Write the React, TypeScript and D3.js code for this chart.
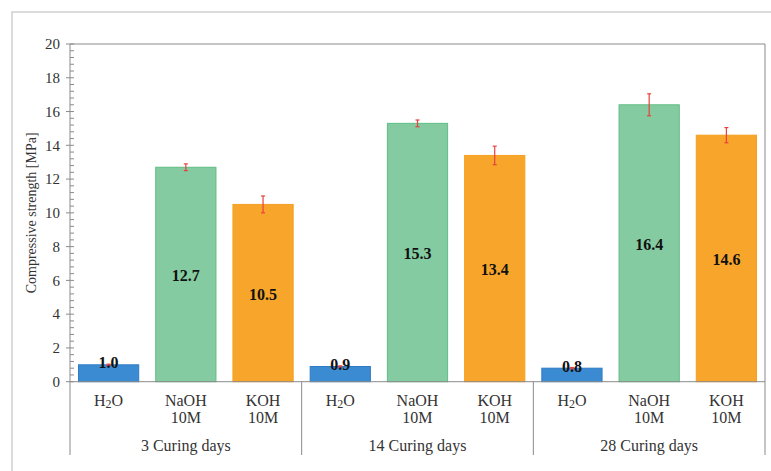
import { scaleBand, scaleLinear, range } from "d3"

const groups = ["3 Curing days", "14 Curing days", "28 Curing days"]
const solutions = ["H2O", "NaOH", "KOH"]
const h2oValues = [1.0, 0.9, 0.8]
const naohValues = [12.7, 15.3, 16.4]
const kohValues = [10.5, 13.4, 14.6]
const h2oErrors = [0.04, 0.04, 0.04]
const naohErrors = [0.2, 0.2, 0.65]
const kohErrors = [0.5, 0.55, 0.45]
const yTicks = [0, 2, 4, 6, 8, 10, 12, 14, 16, 18, 20]

const fills: Record<string, string> = { H2O: "#3b8bd3", NaOH: "#85cba1", KOH: "#f7a62b" }
const strokes: Record<string, string> = { H2O: "#2f7bc4", NaOH: "#5fbd83", KOH: "#f5a020" }

const seriesValues: Record<string, number[]> = { H2O: h2oValues, NaOH: naohValues, KOH: kohValues }
const seriesErrors: Record<string, number[]> = { H2O: h2oErrors, NaOH: naohErrors, KOH: kohErrors }

const serif = { fontFamily: "Liberation Serif" }

export default function App() {
  const width = 771
  const height = 471
  const left = 70
  const right = 765
  const top = 44
  const bottom = 381.7
  const frameBottom = 455

  const x0 = scaleBand<string>().domain(groups).range([left, right]).padding(0)
  const x1 = scaleBand<string>()
    .domain(solutions)
    .range([0, x0.bandwidth()])
    .paddingInner(0.22)
    .paddingOuter(0.11)
  const y = scaleLinear().domain([0, 20]).range([bottom, top])

  const minorTicks = range(0, 20.001, 0.4).filter((v) => Math.abs(v / 2 - Math.round(v / 2)) > 0.01)

  return (
    <svg
      width={width}
      height={height}
      style={{ position: "absolute", left: 0, top: 0, background: "#fff" }}
    >
      {/* outer frame */}
      <rect x={12} y={12} width={width} height={height} fill="none" stroke="#cfcfcf" strokeWidth={1.5} />

      {/* plot frame */}
      <line x1={left} x2={right} y1={top} y2={top} stroke="#8a8a8a" />
      <line x1={right} x2={right} y1={top} y2={frameBottom} stroke="#8a8a8a" />

      {/* bars */}
      {groups.map((g, gi) => (
        <g key={g} transform={`translate(${x0(g)},0)`}>
          {solutions.map((s) => {
            const v = seriesValues[s][gi]
            const e = seriesErrors[s][gi]
            const bx = x1(s)!
            const bw = x1.bandwidth()
            const cx = bx + bw / 2
            const barH = bottom - y(v)
            const labelY = barH > 40 ? y(v / 2) + 1 : y(v) - 2
            return (
              <g key={s}>
                <rect
                  x={bx}
                  y={y(v)}
                  width={bw}
                  height={barH}
                  fill={fills[s]}
                  stroke={strokes[s]}
                  strokeWidth={1}
                />
                <g stroke="#e8413c" strokeWidth={1.2}>
                  <line x1={cx} x2={cx} y1={y(v + e)} y2={y(v - e)} />
                  <line x1={cx - 2} x2={cx + 2} y1={y(v + e)} y2={y(v + e)} />
                  <line x1={cx - 2} x2={cx + 2} y1={y(v - e)} y2={y(v - e)} />
                </g>
                <text
                  x={cx}
                  y={labelY}
                  dy="0.35em"
                  textAnchor="middle"
                  style={serif}
                  fontWeight="bold"
                  fontSize={16}
                  fill="#111"
                >
                  {v.toFixed(1)}
                </text>
                <text
                  x={cx}
                  y={406}
                  textAnchor="middle"
                  style={serif}
                  fontSize={16}
                  fill="#333"
                >
                  {s === "H2O" ? (
                    <>
                      H<tspan fontSize={12} dy={2}>2</tspan>
                      <tspan dy={-2}>O</tspan>
                    </>
                  ) : (
                    s
                  )}
                </text>
                {s !== "H2O" && (
                  <text
                    x={cx}
                    y={423}
                    textAnchor="middle"
                    style={serif}
                    fontSize={16}
                    fill="#333"
                  >
                    10M
                  </text>
                )}
              </g>
            )
          })}
          <text
            x={x0.bandwidth() / 2}
            y={451}
            textAnchor="middle"
            style={serif}
            fontSize={16}
            fill="#333"
          >
            {g}
          </text>
        </g>
      ))}

      {/* x axis and group dividers */}
      <line x1={left} x2={right} y1={bottom} y2={bottom} stroke="#8a8a8a" />
      {groups.slice(1).map((g) => (
        <line key={g} x1={x0(g)} x2={x0(g)} y1={bottom} y2={frameBottom} stroke="#8a8a8a" />
      ))}

      {/* y axis */}
      <line x1={left} x2={left} y1={top} y2={frameBottom} stroke="#8a8a8a" />
      {minorTicks.map((t) => (
        <line key={t} x1={left} x2={left + 4} y1={y(t)} y2={y(t)} stroke="#8a8a8a" />
      ))}
      {yTicks.map((t) => (
        <g key={t}>
          <line x1={left - 4} x2={left + 4} y1={y(t)} y2={y(t)} stroke="#8a8a8a" />
          <text
            x={left - 10}
            y={y(t)}
            dy="0.35em"
            textAnchor="end"
            style={serif}
            fontSize={15}
            fill="#333"
          >
            {t}
          </text>
        </g>
      ))}
      <text
        transform={`translate(36,${(top + bottom) / 2}) rotate(-90)`}
        textAnchor="middle"
        style={serif}
        fontSize={14}
        fill="#333"
      >
        Compressive strength [MPa]
      </text>
    </svg>
  )
}
